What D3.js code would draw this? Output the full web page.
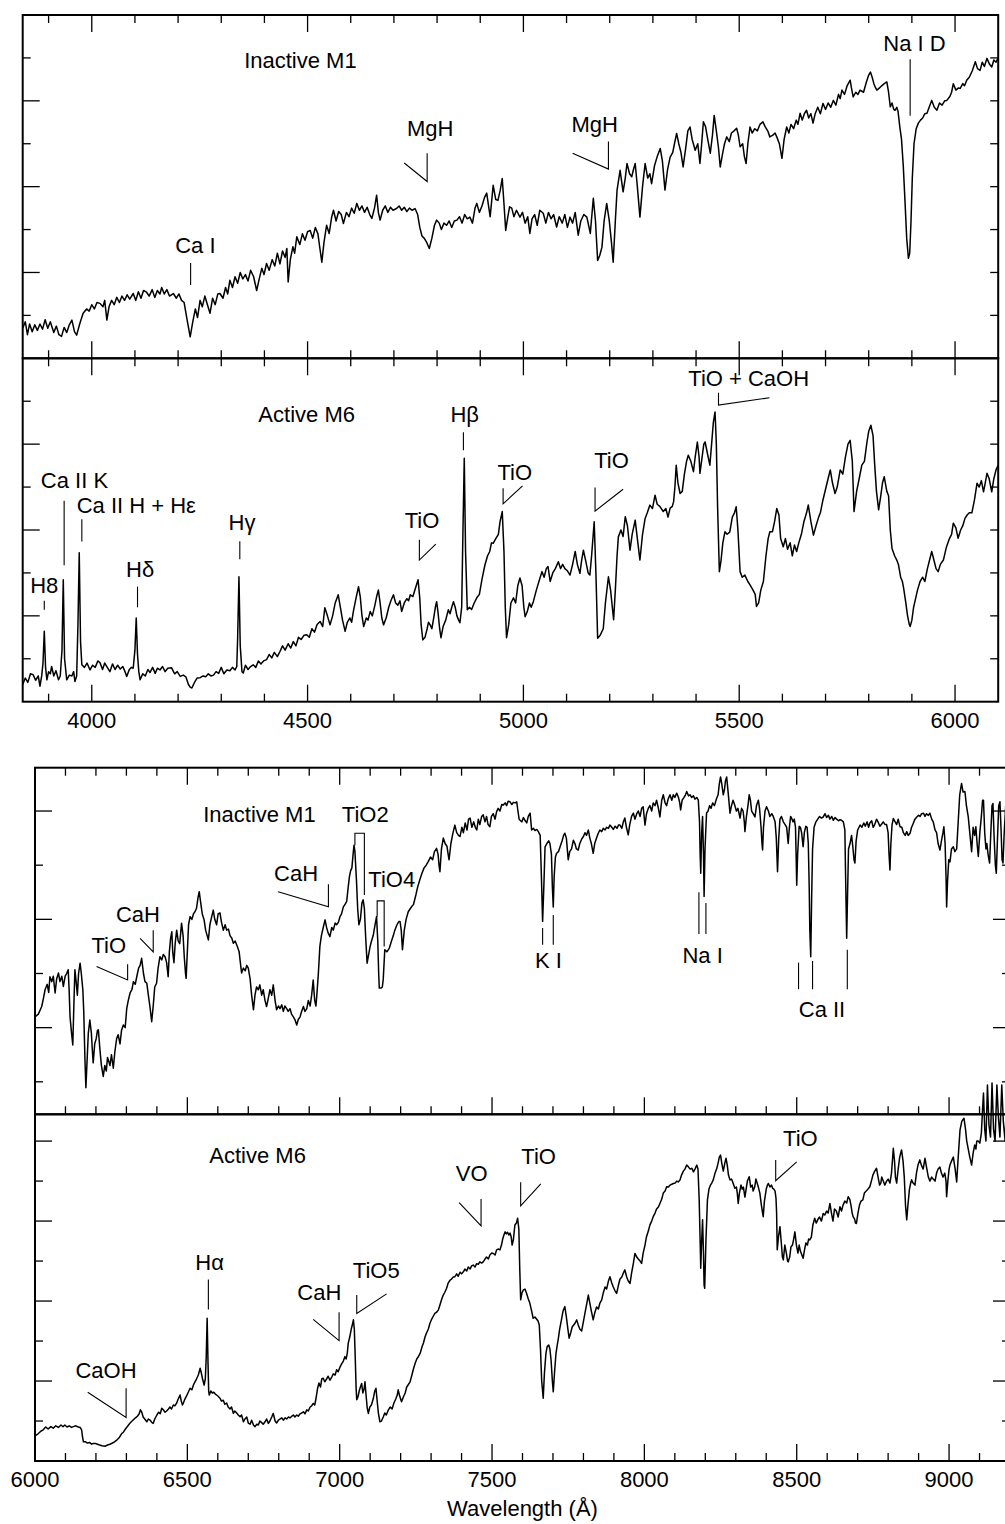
<!DOCTYPE html>
<html>
<head>
<meta charset="utf-8">
<script src="https://cdn.jsdelivr.net/npm/d3@7"></script>
<style>
  html, body { margin: 0; padding: 0; background: #fff; }
  svg { display: block; font-family: "Liberation Sans", Arial, Helvetica, sans-serif; }
</style>
</head>
<body>
<div id="chart"></div>
<script>
"use strict";

// ---- data: wavelength (Å), relative flux (in panel tick units) ----
const blueInactive = [[3840,0.70],[3846,0.85],[3851,0.55],[3856,0.80],[3862,0.62],[3868,0.78],[3874,0.65],[3880,0.80],[3886,0.68],[3892,0.90],[3898,0.70],[3904,0.85],[3912,0.60],[3918,0.75],[3924,0.55],[3930,0.51],[3936,0.72],[3942,0.60],[3948,0.78],[3954,0.89],[3960,0.62],[3965,0.54],[3972,0.80],[3980,1.05],[3988,1.15],[3994,1.10],[4000,1.25],[4006,1.15],[4012,1.30],[4019,1.28],[4026,1.20],[4030,1.35],[4035,0.89],[4040,1.20],[4046,1.35],[4052,1.25],[4058,1.42],[4064,1.30],[4070,1.45],[4076,1.35],[4082,1.48],[4088,1.38],[4096,1.51],[4102,1.35],[4108,1.55],[4114,1.40],[4120,1.58],[4127,1.54],[4133,1.45],[4140,1.60],[4146,1.42],[4152,1.58],[4158,1.50],[4162,1.65],[4168,1.50],[4174,1.60],[4180,1.45],[4189,1.51],[4196,1.40],[4202,1.50],[4208,1.35],[4214,1.30],[4220,0.95],[4228,0.50],[4234,0.85],[4240,1.15],[4245,0.95],[4251,1.35],[4256,1.20],[4262,1.45],[4268,1.25],[4274,1.05],[4280,1.40],[4286,1.25],[4292,1.50],[4297,1.51],[4304,1.40],[4310,1.65],[4315,1.50],[4320,1.82],[4326,1.65],[4332,1.90],[4338,1.75],[4344,2.00],[4350,1.85],[4356,1.95],[4362,1.80],[4368,2.05],[4375,1.90],[4382,1.58],[4388,1.85],[4394,2.10],[4399,1.95],[4405,2.21],[4411,2.05],[4418,2.30],[4424,2.15],[4430,2.45],[4436,2.20],[4442,2.50],[4448,2.35],[4452,2.56],[4455,1.78],[4460,2.30],[4466,2.60],[4470,2.45],[4475,2.83],[4482,2.65],[4488,2.90],[4494,2.75],[4500,2.95],[4506,2.98],[4512,2.80],[4518,3.05],[4524,2.90],[4528,2.60],[4533,2.24],[4538,2.70],[4544,3.10],[4550,2.91],[4556,3.30],[4560,3.45],[4566,3.20],[4572,3.42],[4578,3.35],[4583,3.14],[4590,3.40],[4596,3.30],[4602,3.50],[4608,3.38],[4614,3.61],[4620,3.45],[4626,3.55],[4632,3.40],[4638,3.52],[4644,3.35],[4649,3.26],[4655,3.50],[4660,3.80],[4664,3.40],[4668,3.22],[4674,3.45],[4680,3.55],[4686,3.40],[4692,3.52],[4698,3.45],[4706,3.49],[4712,3.55],[4718,3.45],[4724,3.52],[4730,3.42],[4736,3.50],[4742,3.45],[4749,3.49],[4755,3.35],[4760,3.05],[4765,2.85],[4770,2.80],[4776,2.70],[4782,2.56],[4788,2.80],[4794,3.10],[4799,3.22],[4805,3.15],[4810,3.00],[4816,3.15],[4822,3.10],[4828,3.20],[4834,3.05],[4840,3.20],[4846,3.22],[4852,3.30],[4858,3.15],[4864,3.35],[4870,3.25],[4876,3.29],[4882,3.15],[4888,3.50],[4892,3.61],[4898,3.40],[4904,3.55],[4910,3.75],[4915,3.85],[4920,3.50],[4923,3.30],[4930,4.03],[4936,3.70],[4941,3.68],[4946,3.90],[4951,4.19],[4955,3.60],[4959,2.98],[4964,3.30],[4968,3.53],[4973,3.50],[4978,3.30],[4984,3.45],[4992,3.29],[4998,3.40],[5004,3.15],[5010,3.30],[5015,2.91],[5020,3.25],[5026,3.35],[5032,3.10],[5038,3.45],[5046,3.38],[5052,3.15],[5058,3.40],[5064,3.25],[5070,3.35],[5077,3.06],[5083,3.30],[5090,3.15],[5096,3.35],[5102,3.05],[5108,3.29],[5114,3.15],[5120,3.40],[5127,2.87],[5133,3.20],[5140,3.35],[5147,3.29],[5155,2.91],[5162,3.73],[5167,3.20],[5172,2.28],[5177,2.40],[5182,2.59],[5187,3.20],[5193,3.61],[5199,3.20],[5204,2.70],[5208,2.24],[5213,3.20],[5217,3.92],[5224,4.38],[5231,3.88],[5236,4.20],[5240,4.54],[5246,4.30],[5251,4.23],[5255,4.40],[5259,4.54],[5264,4.00],[5270,3.29],[5276,4.00],[5282,4.54],[5288,4.20],[5293,4.30],[5297,4.07],[5304,4.50],[5310,4.70],[5317,4.89],[5322,4.60],[5328,3.92],[5334,4.40],[5340,4.69],[5346,4.80],[5350,5.00],[5355,5.24],[5360,5.00],[5365,4.80],[5370,4.46],[5376,4.90],[5381,5.30],[5386,5.39],[5391,5.10],[5398,4.85],[5404,5.00],[5409,4.54],[5413,5.00],[5417,5.51],[5422,5.40],[5428,5.05],[5433,4.78],[5438,5.20],[5442,5.66],[5447,5.30],[5452,4.90],[5456,4.46],[5462,4.80],[5466,5.00],[5471,5.16],[5477,5.05],[5482,5.25],[5488,5.30],[5494,5.36],[5498,5.20],[5502,4.93],[5508,5.00],[5512,4.70],[5516,4.54],[5520,5.00],[5525,5.39],[5530,5.25],[5536,5.35],[5542,5.30],[5548,5.45],[5555,5.51],[5560,5.40],[5566,5.30],[5571,5.16],[5578,5.20],[5583,5.25],[5587,5.16],[5593,5.00],[5599,4.66],[5604,5.10],[5610,5.39],[5615,5.25],[5620,5.45],[5626,5.35],[5632,5.55],[5636,5.45],[5641,5.71],[5646,5.55],[5651,5.70],[5656,5.78],[5661,5.60],[5666,5.70],[5671,5.48],[5676,5.70],[5682,5.85],[5688,5.70],[5694,5.94],[5700,5.80],[5706,5.95],[5712,5.85],[5718,6.01],[5724,5.90],[5730,6.15],[5734,6.05],[5738,6.25],[5744,6.15],[5750,6.35],[5757,6.48],[5760,6.30],[5764,6.09],[5770,6.20],[5775,6.15],[5780,6.25],[5788,6.20],[5795,6.45],[5800,6.60],[5804,6.67],[5808,6.55],[5812,6.40],[5816,6.30],[5819,6.25],[5825,6.30],[5830,6.35],[5836,6.40],[5842,6.44],[5846,6.20],[5850,5.86],[5854,5.95],[5858,5.80],[5861,5.78],[5865,5.85],[5868,5.75],[5872,5.40],[5876,5.10],[5880,4.50],[5884,3.68],[5888,2.80],[5892,2.33],[5895,2.45],[5898,3.20],[5901,4.20],[5905,5.00],[5910,5.35],[5915,5.48],[5920,5.55],[5925,5.60],[5930,5.70],[5935,5.71],[5940,5.85],[5946,6.01],[5952,5.85],[5958,5.78],[5964,5.95],[5970,5.90],[5976,6.00],[5981,6.01],[5988,6.10],[5992,6.20],[5996,6.40],[6002,6.25],[6008,6.30],[6012,6.29],[6018,6.40],[6022,6.35],[6027,6.48],[6033,6.55],[6040,6.70],[6047,6.91],[6052,6.75],[6058,6.71],[6063,6.90],[6068,6.80],[6074,6.99],[6080,6.85],[6085,6.79],[6090,6.95],[6095,6.90],[6100,7.00]];

const blueActive = [[3840,0.40],[3846,0.55],[3852,0.45],[3858,0.65],[3864,0.63],[3870,0.50],[3876,0.60],[3880,0.36],[3884,0.60],[3887,0.90],[3890,1.64],[3893,0.80],[3896,0.51],[3900,0.70],[3904,0.65],[3907,0.82],[3912,0.60],[3917,0.72],[3923,0.51],[3927,0.60],[3931,1.20],[3934,2.84],[3937,1.00],[3942,0.51],[3948,0.62],[3954,0.60],[3958,0.70],[3961,0.47],[3965,0.60],[3968,1.80],[3971,3.47],[3974,1.40],[3977,0.86],[3983,0.80],[3989,0.90],[3996,0.74],[4002,0.85],[4008,0.80],[4014,0.95],[4019,0.91],[4025,0.75],[4030,0.90],[4036,0.80],[4042,0.70],[4048,0.88],[4054,0.75],[4060,0.85],[4066,0.76],[4072,0.82],[4077,0.70],[4081,0.59],[4087,0.75],[4092,0.80],[4096,0.78],[4100,1.20],[4103,1.95],[4106,1.10],[4109,0.70],[4112,0.51],[4118,0.65],[4124,0.60],[4130,0.75],[4135,0.68],[4141,0.80],[4147,0.66],[4152,0.78],[4158,0.74],[4164,0.82],[4170,0.70],[4176,0.78],[4185,0.79],[4192,0.65],[4198,0.70],[4205,0.59],[4212,0.62],[4218,0.58],[4224,0.40],[4228,0.34],[4232,0.32],[4238,0.45],[4244,0.55],[4251,0.56],[4258,0.60],[4264,0.58],[4270,0.65],[4276,0.60],[4282,0.62],[4288,0.70],[4294,0.66],[4300,0.80],[4306,0.65],[4313,0.74],[4320,0.72],[4326,0.80],[4332,0.74],[4336,0.82],[4338,1.50],[4341,2.91],[4344,1.30],[4348,0.70],[4351,0.67],[4356,0.85],[4362,0.75],[4368,0.82],[4374,0.86],[4380,0.80],[4386,0.95],[4392,0.88],[4398,0.95],[4405,0.98],[4411,1.10],[4417,1.02],[4423,1.15],[4430,1.05],[4436,1.17],[4442,1.30],[4448,1.20],[4455,1.35],[4461,1.25],[4467,1.40],[4473,1.30],[4479,1.50],[4485,1.45],[4492,1.55],[4498,1.56],[4504,1.50],[4510,1.70],[4516,1.62],[4522,1.80],[4529,1.87],[4535,1.75],[4540,2.19],[4546,2.00],[4552,1.79],[4558,2.00],[4564,2.30],[4571,2.49],[4576,2.20],[4581,1.90],[4587,1.64],[4592,1.85],[4598,1.95],[4602,1.85],[4606,2.10],[4612,2.40],[4618,2.68],[4622,2.45],[4626,2.00],[4630,1.75],[4636,1.95],[4640,1.90],[4645,2.10],[4650,2.00],[4656,2.25],[4660,2.45],[4664,2.60],[4668,2.30],[4672,1.95],[4676,1.79],[4682,1.95],[4688,2.20],[4693,2.35],[4699,2.49],[4704,2.30],[4709,2.25],[4714,2.35],[4718,2.10],[4724,2.30],[4730,2.40],[4734,2.35],[4738,2.49],[4744,2.45],[4750,2.65],[4756,2.84],[4760,2.40],[4763,1.80],[4767,1.44],[4772,1.50],[4777,1.70],[4780,1.85],[4784,1.79],[4788,1.70],[4793,2.00],[4796,2.20],[4799,2.33],[4802,2.10],[4806,1.70],[4809,1.49],[4814,1.75],[4820,1.90],[4826,2.14],[4830,2.05],[4834,2.20],[4838,2.33],[4842,2.20],[4846,2.00],[4850,1.90],[4853,1.84],[4857,2.20],[4860,4.00],[4863,5.67],[4866,3.50],[4870,2.14],[4875,2.20],[4880,2.15],[4886,2.30],[4892,2.42],[4898,2.50],[4904,2.85],[4911,3.19],[4917,3.40],[4922,3.50],[4926,3.70],[4930,3.69],[4936,3.80],[4942,3.90],[4946,4.20],[4951,4.43],[4955,3.50],[4958,2.20],[4961,1.49],[4966,1.80],[4971,2.30],[4977,2.42],[4982,2.30],[4987,2.70],[4992,2.88],[4997,2.70],[5001,2.20],[5004,1.98],[5009,2.10],[5014,2.30],[5018,2.20],[5023,2.33],[5030,2.60],[5036,2.80],[5043,3.03],[5048,2.90],[5053,3.10],[5057,3.15],[5062,2.80],[5068,3.00],[5074,3.10],[5081,3.26],[5086,3.10],[5091,3.20],[5096,3.10],[5102,3.05],[5108,2.95],[5114,3.20],[5120,3.50],[5125,3.20],[5131,2.99],[5135,3.30],[5139,3.53],[5144,3.30],[5150,3.00],[5154,2.95],[5158,3.40],[5164,4.19],[5168,3.00],[5172,1.48],[5178,1.55],[5185,1.70],[5190,2.30],[5197,2.91],[5202,2.60],[5206,2.20],[5209,1.91],[5213,2.60],[5217,3.40],[5220,3.84],[5226,4.00],[5231,3.85],[5236,4.31],[5241,4.10],[5247,3.53],[5252,3.90],[5259,4.23],[5264,3.80],[5270,3.30],[5276,3.90],[5282,4.27],[5287,4.40],[5293,4.58],[5299,4.50],[5305,4.81],[5310,4.60],[5316,4.55],[5324,4.43],[5330,4.50],[5335,4.30],[5340,4.51],[5345,4.55],[5348,4.66],[5351,5.00],[5354,5.51],[5358,5.10],[5363,4.85],[5368,4.90],[5373,5.30],[5378,5.60],[5382,5.74],[5388,5.60],[5394,5.36],[5398,5.70],[5403,6.05],[5407,5.70],[5409,5.32],[5414,5.70],[5418,6.00],[5421,6.05],[5426,5.80],[5432,5.51],[5436,6.00],[5440,6.50],[5444,6.75],[5447,6.00],[5450,4.50],[5454,3.03],[5458,3.30],[5462,3.70],[5467,3.96],[5472,3.90],[5478,3.95],[5484,4.30],[5489,4.40],[5493,4.54],[5497,4.00],[5502,3.03],[5507,2.90],[5513,2.95],[5520,2.80],[5525,2.72],[5532,2.60],[5537,2.50],[5540,2.22],[5545,2.30],[5550,2.60],[5556,2.80],[5562,3.40],[5567,3.80],[5571,3.96],[5577,3.96],[5582,4.20],[5587,4.50],[5592,4.35],[5596,3.80],[5602,3.61],[5607,3.80],[5612,3.55],[5618,3.70],[5623,3.40],[5628,3.65],[5633,3.50],[5638,3.70],[5644,3.90],[5650,4.20],[5656,4.40],[5660,4.58],[5666,4.20],[5672,3.88],[5678,4.10],[5684,4.30],[5688,4.40],[5694,4.70],[5700,4.95],[5706,5.20],[5711,5.40],[5716,5.10],[5722,4.85],[5727,5.00],[5734,5.40],[5740,5.30],[5746,5.70],[5752,6.00],[5757,6.09],[5762,5.60],[5766,4.43],[5772,4.90],[5778,5.20],[5784,5.51],[5790,5.60],[5796,6.05],[5800,6.30],[5805,6.44],[5810,6.20],[5814,5.50],[5818,4.90],[5823,4.47],[5828,4.80],[5832,5.10],[5836,5.24],[5842,4.90],[5846,4.80],[5850,4.00],[5854,3.57],[5860,3.40],[5865,3.30],[5869,3.19],[5874,2.90],[5878,2.80],[5881,2.64],[5886,2.30],[5890,2.00],[5894,1.80],[5896,1.75],[5900,1.90],[5904,2.20],[5907,2.33],[5913,2.60],[5919,2.80],[5925,2.90],[5930,2.80],[5936,3.10],[5941,3.30],[5946,3.50],[5951,3.30],[5956,3.10],[5961,3.03],[5966,3.20],[5973,3.30],[5980,3.60],[5987,3.80],[5992,3.90],[5996,4.16],[6002,4.05],[6007,3.81],[6013,4.00],[6018,4.10],[6023,4.27],[6028,4.35],[6033,4.40],[6039,4.40],[6045,4.70],[6051,5.09],[6056,5.00],[6061,5.15],[6066,4.89],[6070,5.10],[6074,5.32],[6079,5.20],[6085,4.89],[6090,5.20],[6095,5.40],[6100,5.51]];

const redInactive = [[6000,1.20],[6011,1.25],[6022,1.39],[6028,1.55],[6033,1.70],[6040,1.80],[6045,1.65],[6049,1.94],[6055,1.85],[6060,1.95],[6066,1.64],[6071,1.90],[6077,2.01],[6082,1.85],[6088,1.95],[6093,1.76],[6099,1.95],[6104,2.00],[6109,2.07],[6112,1.70],[6115,1.20],[6120,0.90],[6124,0.68],[6128,1.50],[6131,2.07],[6135,1.85],[6139,1.60],[6143,2.00],[6148,2.19],[6152,2.00],[6157,1.70],[6160,1.30],[6164,0.40],[6167,-0.11],[6171,0.40],[6175,0.90],[6180,1.14],[6185,0.90],[6188,0.60],[6191,0.35],[6196,0.70],[6201,0.80],[6205,0.95],[6208,0.96],[6213,0.60],[6218,0.30],[6224,0.10],[6229,0.30],[6234,0.20],[6238,0.45],[6241,0.40],[6246,0.30],[6251,0.50],[6257,0.25],[6262,0.55],[6268,0.80],[6273,0.87],[6279,0.70],[6284,0.95],[6290,1.05],[6296,1.00],[6301,1.35],[6306,1.50],[6312,1.64],[6318,1.70],[6323,1.85],[6329,1.80],[6334,1.94],[6340,2.10],[6345,2.15],[6350,2.28],[6356,2.00],[6361,1.85],[6367,1.82],[6372,1.60],[6377,1.40],[6383,1.11],[6388,1.40],[6393,1.75],[6399,1.82],[6404,2.10],[6410,2.31],[6416,2.25],[6421,2.35],[6427,2.31],[6432,2.20],[6437,1.94],[6441,2.40],[6445,2.65],[6449,2.77],[6452,2.40],[6456,2.20],[6460,2.55],[6465,2.80],[6470,2.60],[6475,2.55],[6481,2.93],[6486,2.70],[6490,2.30],[6494,2.00],[6496,1.91],[6500,2.40],[6504,2.90],[6509,3.05],[6515,3.00],[6520,3.10],[6525,3.14],[6530,3.20],[6535,3.40],[6539,3.51],[6544,3.30],[6549,3.10],[6555,2.99],[6560,2.80],[6565,2.70],[6569,2.62],[6574,2.90],[6580,3.05],[6585,3.17],[6590,3.00],[6596,2.90],[6601,3.10],[6607,3.12],[6612,2.95],[6618,2.80],[6624,2.90],[6629,2.80],[6635,2.82],[6640,2.70],[6646,2.65],[6651,2.56],[6657,2.60],[6664,2.50],[6670,2.40],[6674,2.20],[6678,2.01],[6684,2.10],[6690,2.05],[6695,2.15],[6700,2.10],[6706,1.90],[6711,1.60],[6717,1.33],[6722,1.60],[6727,1.75],[6733,1.70],[6738,1.79],[6744,1.60],[6749,1.70],[6755,1.50],[6760,1.39],[6766,1.55],[6771,1.70],[6777,1.60],[6782,1.79],[6788,1.50],[6793,1.33],[6799,1.40],[6804,1.35],[6810,1.42],[6815,1.30],[6820,1.40],[6826,1.35],[6831,1.30],[6837,1.35],[6842,1.25],[6848,1.20],[6853,1.15],[6859,1.05],[6864,1.15],[6870,1.20],[6875,1.30],[6881,1.39],[6886,1.30],[6892,1.35],[6897,1.50],[6903,1.40],[6908,1.60],[6913,1.88],[6918,1.50],[6922,1.40],[6925,1.60],[6930,2.00],[6935,2.50],[6940,2.70],[6946,2.85],[6952,2.99],[6957,2.85],[6962,2.75],[6968,2.68],[6974,2.85],[6979,2.80],[6985,2.93],[6990,2.90],[6996,2.95],[7001,3.05],[7006,3.10],[7012,3.23],[7018,3.28],[7023,3.33],[7028,3.60],[7032,3.79],[7036,3.90],[7040,3.95],[7044,4.20],[7047,4.37],[7050,4.25],[7055,3.73],[7059,3.20],[7063,2.90],[7068,3.00],[7073,3.30],[7077,3.36],[7081,3.20],[7085,2.70],[7090,2.19],[7095,2.35],[7100,2.50],[7104,2.59],[7110,2.70],[7116,2.90],[7121,3.05],[7125,2.60],[7128,2.00],[7130,1.73],[7135,1.73],[7140,1.75],[7143,1.90],[7148,2.44],[7155,2.40],[7163,2.47],[7170,2.60],[7176,2.70],[7181,2.80],[7188,2.90],[7194,2.96],[7198,2.96],[7202,2.80],[7206,2.44],[7212,2.80],[7218,3.00],[7225,3.14],[7232,3.20],[7238,3.25],[7242,3.27],[7250,3.45],[7256,3.60],[7263,3.73],[7270,3.85],[7277,3.95],[7284,4.00],[7291,4.07],[7298,4.15],[7305,4.10],[7311,4.25],[7318,4.31],[7323,4.20],[7326,4.00],[7329,3.88],[7334,4.30],[7340,4.50],[7346,4.40],[7352,4.35],[7356,4.20],[7359,4.10],[7365,4.40],[7372,4.60],[7378,4.74],[7384,4.60],[7390,4.55],[7395,4.53],[7401,4.70],[7406,4.60],[7412,4.78],[7418,4.65],[7423,4.85],[7428,4.87],[7434,4.70],[7440,4.80],[7445,4.70],[7450,4.65],[7455,4.85],[7460,4.75],[7466,4.90],[7471,4.93],[7477,4.80],[7482,4.90],[7487,4.75],[7493,4.71],[7498,4.90],[7504,4.95],[7510,4.85],[7515,4.99],[7520,5.05],[7526,5.00],[7532,5.12],[7537,5.11],[7543,5.15],[7548,5.10],[7553,5.18],[7559,5.17],[7565,5.12],[7570,5.16],[7576,5.15],[7581,5.17],[7585,5.00],[7589,4.85],[7592,4.83],[7598,4.80],[7603,4.88],[7609,4.82],[7614,4.78],[7619,4.90],[7625,4.96],[7630,4.65],[7636,4.68],[7641,4.64],[7647,4.66],[7652,4.62],[7658,4.55],[7662,3.80],[7666,2.96],[7670,3.60],[7674,4.34],[7680,4.40],[7686,4.45],[7690,4.40],[7695,4.20],[7698,3.60],[7701,3.23],[7704,3.80],[7708,4.15],[7712,4.22],[7718,4.25],[7724,4.35],[7730,4.45],[7735,4.55],[7739,4.59],[7744,4.50],[7747,4.30],[7750,4.10],[7755,4.25],[7761,4.30],[7767,4.46],[7772,4.40],[7777,4.30],[7783,4.28],[7788,4.40],[7794,4.48],[7800,4.53],[7805,4.60],[7810,4.55],[7816,4.65],[7821,4.50],[7826,4.40],[7832,4.22],[7837,4.40],[7843,4.50],[7848,4.58],[7854,4.65],[7860,4.62],[7865,4.68],[7871,4.65],[7876,4.70],[7882,4.68],[7887,4.74],[7893,4.70],[7898,4.66],[7904,4.72],[7910,4.68],[7915,4.74],[7920,4.74],[7926,4.68],[7931,4.80],[7936,4.87],[7941,4.70],[7947,4.56],[7952,4.75],[7958,4.90],[7964,4.96],[7969,4.85],[7975,4.95],[7980,5.00],[7986,4.90],[7991,5.05],[7996,5.08],[8002,4.74],[8007,4.95],[8013,5.05],[8018,5.10],[8024,5.00],[8029,5.15],[8035,5.10],[8040,5.20],[8046,5.05],[8051,4.89],[8057,5.20],[8062,5.30],[8068,5.15],[8073,5.10],[8078,5.22],[8084,5.30],[8090,5.20],[8095,5.30],[8100,5.25],[8106,5.33],[8112,5.25],[8116,5.15],[8119,5.02],[8124,5.20],[8130,5.25],[8135,5.30],[8139,5.36],[8145,5.28],[8150,5.30],[8155,5.25],[8161,5.28],[8166,5.22],[8172,5.25],[8177,5.20],[8181,4.80],[8183,4.20],[8185,3.85],[8188,4.60],[8191,4.90],[8194,4.20],[8196,3.42],[8199,4.30],[8204,4.96],[8209,5.00],[8214,5.10],[8219,5.05],[8224,5.15],[8230,5.10],[8237,5.23],[8242,5.30],[8246,5.50],[8250,5.63],[8254,5.50],[8259,5.30],[8263,5.40],[8266,5.55],[8270,5.63],[8274,5.40],[8278,5.15],[8281,4.96],[8286,5.10],[8291,5.20],[8297,5.10],[8302,5.00],[8307,5.05],[8311,4.95],[8314,4.87],[8319,5.05],[8324,5.00],[8328,4.80],[8330,4.62],[8335,4.90],[8340,5.10],[8344,5.30],[8348,5.20],[8352,5.00],[8357,4.95],[8363,4.89],[8368,5.10],[8374,5.20],[8378,5.05],[8383,4.70],[8386,4.40],[8388,4.28],[8391,4.70],[8396,5.00],[8401,5.08],[8407,5.00],[8412,4.90],[8418,4.95],[8423,4.90],[8429,4.80],[8433,4.50],[8437,3.88],[8441,4.50],[8445,4.85],[8450,4.90],[8456,4.80],[8462,4.75],[8467,4.70],[8472,4.40],[8476,4.70],[8480,4.90],[8483,4.87],[8488,4.80],[8492,4.85],[8496,4.70],[8498,4.20],[8500,3.63],[8503,4.20],[8508,4.72],[8512,4.70],[8516,4.60],[8519,4.45],[8521,4.34],[8525,4.60],[8530,4.72],[8534,4.70],[8538,4.40],[8541,3.60],[8543,2.80],[8546,2.31],[8549,3.40],[8552,4.30],[8557,4.70],[8563,4.80],[8569,4.85],[8575,4.90],[8581,4.87],[8587,4.89],[8593,4.95],[8598,4.88],[8604,4.92],[8609,4.85],[8615,4.90],[8620,4.83],[8626,4.88],[8631,4.85],[8637,4.82],[8642,4.84],[8647,4.83],[8653,4.80],[8658,4.65],[8661,3.60],[8664,2.65],[8667,3.50],[8670,4.30],[8675,4.40],[8680,4.55],[8684,4.35],[8688,4.10],[8691,4.04],[8695,4.45],[8700,4.65],[8708,4.74],[8714,4.70],[8720,4.78],[8725,4.72],[8731,4.80],[8736,4.70],[8740,4.78],[8746,4.82],[8751,4.70],[8756,4.75],[8762,4.85],[8767,4.80],[8773,4.72],[8779,4.76],[8784,4.80],[8790,4.75],[8795,4.75],[8800,4.60],[8803,4.20],[8806,3.91],[8809,4.40],[8813,4.75],[8817,4.86],[8823,4.80],[8828,4.75],[8833,4.85],[8839,4.71],[8845,4.70],[8850,4.60],[8856,4.55],[8861,4.62],[8866,4.55],[8872,4.59],[8877,4.70],[8883,4.78],[8888,4.85],[8894,4.89],[8900,4.92],[8905,4.90],[8910,4.95],[8916,4.96],[8921,4.90],[8926,4.95],[8932,4.92],[8937,4.96],[8943,4.85],[8948,4.80],[8954,4.65],[8959,4.60],[8964,4.40],[8970,4.28],[8975,4.45],[8980,4.60],[8983,4.71],[8987,4.40],[8990,3.80],[8992,3.23],[8995,3.70],[8999,4.10],[9003,4.06],[9008,4.30],[9014,4.34],[9019,4.25],[9025,4.30],[9030,4.80],[9035,5.30],[9041,5.51],[9046,5.35],[9052,5.36],[9057,5.10],[9063,4.89],[9068,4.60],[9074,4.25],[9079,4.70],[9084,4.55],[9088,4.71],[9092,4.40],[9096,4.16],[9101,4.60],[9106,4.90],[9110,5.20],[9113,5.20],[9117,4.60],[9121,4.30],[9124,4.40],[9128,4.20],[9133,4.04],[9137,4.60],[9141,5.10],[9144,5.14],[9148,4.50],[9152,4.00],[9155,3.85],[9159,4.50],[9163,5.10],[9167,5.17],[9171,4.60],[9174,4.10],[9177,4.04],[9181,4.60],[9186,5.10],[9190,4.60],[9195,4.30],[9200,4.80]];

const redActive = [[6000,0.63],[6010,0.68],[6020,0.75],[6027,0.78],[6035,0.85],[6043,0.80],[6052,0.86],[6060,0.82],[6068,0.88],[6077,0.84],[6085,0.90],[6092,0.86],[6098,0.90],[6105,0.85],[6112,0.88],[6120,0.84],[6126,0.86],[6134,0.88],[6142,0.85],[6148,0.84],[6153,0.78],[6156,0.60],[6159,0.48],[6166,0.48],[6172,0.45],[6180,0.46],[6186,0.42],[6191,0.44],[6198,0.44],[6205,0.42],[6212,0.40],[6220,0.38],[6230,0.37],[6238,0.40],[6246,0.42],[6254,0.45],[6261,0.48],[6268,0.52],[6276,0.58],[6284,0.68],[6290,0.72],[6295,0.78],[6302,0.85],[6310,0.93],[6316,0.98],[6323,1.03],[6330,1.08],[6336,1.12],[6342,1.18],[6346,1.28],[6350,1.23],[6355,1.10],[6360,1.05],[6367,0.98],[6372,1.05],[6378,1.02],[6384,0.96],[6388,0.94],[6393,1.05],[6400,1.15],[6406,1.22],[6411,1.18],[6416,1.32],[6421,1.28],[6427,1.22],[6432,1.25],[6438,1.30],[6443,1.35],[6448,1.30],[6454,1.40],[6459,1.38],[6465,1.45],[6470,1.55],[6476,1.65],[6480,1.50],[6484,1.40],[6487,1.45],[6492,1.55],[6497,1.62],[6503,1.72],[6509,1.82],[6515,1.78],[6520,1.90],[6525,1.98],[6530,2.05],[6536,2.15],[6542,2.32],[6546,2.20],[6550,2.05],[6555,1.90],[6559,2.05],[6562,2.60],[6565,3.57],[6568,2.40],[6570,1.75],[6572,1.65],[6577,1.75],[6582,1.70],[6587,1.72],[6591,1.68],[6596,1.65],[6601,1.62],[6607,1.57],[6612,1.50],[6618,1.52],[6623,1.42],[6629,1.45],[6634,1.35],[6640,1.30],[6645,1.35],[6651,1.19],[6656,1.25],[6662,1.20],[6667,1.15],[6673,1.11],[6678,1.15],[6684,0.98],[6689,1.05],[6695,1.10],[6700,0.95],[6706,0.92],[6711,1.02],[6717,0.90],[6722,0.86],[6728,0.92],[6733,0.90],[6738,1.00],[6744,0.96],[6749,0.92],[6755,0.98],[6760,1.05],[6766,0.94],[6771,1.00],[6777,1.10],[6782,1.19],[6788,1.00],[6793,0.95],[6799,1.02],[6804,1.05],[6810,1.08],[6815,1.02],[6821,1.08],[6826,1.05],[6832,1.10],[6837,1.08],[6843,1.12],[6848,1.15],[6853,1.10],[6859,1.15],[6864,1.12],[6870,1.18],[6875,1.20],[6881,1.23],[6886,1.18],[6892,1.28],[6897,1.25],[6903,1.35],[6908,1.38],[6913,1.44],[6918,1.40],[6922,1.55],[6927,1.80],[6932,1.95],[6937,1.85],[6941,2.05],[6946,2.07],[6951,1.98],[6957,2.05],[6962,2.12],[6968,2.02],[6974,2.10],[6979,2.18],[6985,2.15],[6990,2.28],[6995,2.23],[7001,2.35],[7006,2.42],[7012,2.50],[7017,2.61],[7021,2.55],[7025,2.70],[7028,2.94],[7033,3.10],[7038,3.30],[7043,3.45],[7045,3.53],[7048,3.30],[7051,2.60],[7054,1.80],[7056,1.53],[7060,1.60],[7064,1.75],[7068,1.85],[7072,1.94],[7076,1.70],[7080,1.80],[7083,1.98],[7086,1.70],[7090,1.35],[7094,1.19],[7099,1.35],[7104,1.40],[7110,1.55],[7115,1.75],[7119,1.82],[7123,1.50],[7127,1.20],[7132,0.98],[7137,1.00],[7143,1.10],[7148,1.20],[7153,1.15],[7160,1.28],[7166,1.35],[7172,1.30],[7178,1.45],[7184,1.55],[7189,1.65],[7192,1.78],[7196,1.65],[7200,1.55],[7203,1.48],[7209,1.60],[7215,1.70],[7220,1.85],[7226,1.92],[7231,1.98],[7237,2.15],[7242,2.30],[7248,2.45],[7253,2.55],[7259,2.62],[7264,2.69],[7270,2.85],[7275,2.95],[7280,3.10],[7285,3.20],[7291,3.30],[7296,3.44],[7302,3.55],[7307,3.62],[7313,3.70],[7318,3.72],[7324,3.78],[7329,3.90],[7335,4.05],[7340,4.15],[7345,4.22],[7351,4.32],[7356,4.45],[7362,4.52],[7367,4.55],[7373,4.60],[7378,4.61],[7384,4.68],[7389,4.62],[7395,4.72],[7400,4.68],[7406,4.73],[7411,4.80],[7417,4.75],[7422,4.85],[7428,4.80],[7433,4.88],[7438,4.90],[7444,4.85],[7449,4.93],[7455,4.92],[7460,4.98],[7466,4.95],[7471,4.98],[7477,5.05],[7482,5.10],[7488,5.05],[7493,5.15],[7499,5.20],[7504,5.19],[7510,5.15],[7515,5.28],[7521,5.30],[7526,5.28],[7531,5.40],[7535,5.55],[7539,5.65],[7543,5.73],[7547,5.68],[7551,5.72],[7555,5.65],[7559,5.70],[7563,5.60],[7566,5.40],[7570,5.53],[7575,5.90],[7580,5.95],[7584,6.07],[7588,5.80],[7591,4.80],[7594,4.03],[7598,4.20],[7603,4.28],[7608,4.30],[7613,4.20],[7619,4.05],[7624,3.95],[7630,3.75],[7635,3.57],[7641,3.60],[7646,3.55],[7651,3.50],[7655,3.40],[7659,2.80],[7663,2.00],[7668,1.57],[7672,2.20],[7677,2.70],[7681,2.86],[7686,2.90],[7690,2.80],[7694,2.50],[7698,2.00],[7701,1.73],[7705,2.20],[7710,2.70],[7714,2.90],[7717,3.03],[7722,3.30],[7727,3.50],[7733,3.75],[7739,3.86],[7744,3.60],[7749,3.30],[7753,3.07],[7758,3.20],[7763,3.35],[7768,3.40],[7773,3.45],[7778,3.53],[7783,3.40],[7788,3.30],[7794,3.25],[7799,3.45],[7805,3.70],[7810,3.90],[7816,4.15],[7821,3.95],[7826,3.75],[7832,3.53],[7837,3.70],[7843,3.85],[7849,3.80],[7854,3.95],[7860,4.03],[7865,4.20],[7871,4.35],[7876,4.30],[7882,4.50],[7887,4.61],[7893,4.45],[7898,4.35],[7904,4.25],[7909,4.19],[7915,4.40],[7920,4.55],[7926,4.60],[7931,4.70],[7936,4.78],[7942,4.60],[7947,4.50],[7953,4.44],[7958,4.70],[7964,4.95],[7969,5.19],[7975,5.10],[7980,5.05],[7986,5.00],[7991,4.94],[7996,5.20],[8002,5.40],[8007,5.61],[8013,5.75],[8018,5.90],[8024,6.00],[8029,6.11],[8035,6.20],[8040,6.30],[8046,6.35],[8051,6.44],[8057,6.55],[8062,6.70],[8068,6.75],[8073,6.86],[8079,6.85],[8084,6.90],[8090,6.92],[8095,6.94],[8101,6.95],[8106,7.00],[8111,6.98],[8117,7.03],[8122,7.15],[8128,7.25],[8133,7.30],[8139,7.40],[8145,7.35],[8150,7.30],[8156,7.32],[8161,7.23],[8166,7.30],[8172,7.40],[8176,7.30],[8180,6.50],[8183,5.50],[8185,4.82],[8188,5.50],[8191,6.03],[8194,5.20],[8196,4.40],[8198,4.32],[8202,5.50],[8207,6.53],[8212,6.80],[8217,6.90],[8221,6.95],[8226,7.03],[8232,7.20],[8237,7.30],[8242,7.45],[8246,7.60],[8250,7.65],[8254,7.45],[8259,7.25],[8264,7.45],[8268,7.57],[8272,7.40],[8276,7.15],[8281,7.03],[8286,7.05],[8291,6.95],[8297,6.82],[8302,6.85],[8305,6.70],[8308,6.44],[8312,6.70],[8317,6.90],[8321,6.80],[8325,6.85],[8330,6.60],[8334,6.80],[8338,7.00],[8344,7.11],[8349,6.85],[8354,6.90],[8357,6.75],[8362,6.85],[8366,7.05],[8370,6.95],[8374,6.85],[8379,6.70],[8384,6.40],[8388,6.20],[8390,6.11],[8394,6.50],[8400,6.80],[8404,6.90],[8407,6.94],[8412,6.85],[8417,6.90],[8421,6.82],[8425,6.80],[8429,6.75],[8432,6.57],[8434,6.20],[8436,5.28],[8440,5.60],[8445,5.86],[8450,5.40],[8453,5.10],[8456,5.03],[8461,5.40],[8466,5.20],[8470,5.00],[8472,4.98],[8477,5.10],[8481,5.35],[8486,5.40],[8490,5.55],[8494,5.73],[8499,5.40],[8504,5.20],[8508,5.40],[8512,5.25],[8517,5.15],[8521,5.07],[8526,5.30],[8530,5.45],[8535,5.40],[8539,5.55],[8543,5.53],[8548,5.60],[8553,5.90],[8559,6.07],[8564,5.95],[8570,6.05],[8575,6.10],[8581,6.00],[8587,6.19],[8592,6.15],[8598,6.25],[8603,6.20],[8609,6.44],[8614,6.20],[8619,6.00],[8624,6.30],[8630,6.25],[8636,6.10],[8642,6.36],[8647,6.25],[8652,6.40],[8658,6.50],[8664,6.45],[8669,6.61],[8674,6.55],[8678,6.40],[8682,6.20],[8685,6.11],[8690,6.05],[8693,5.95],[8696,5.94],[8701,6.20],[8706,6.40],[8711,6.50],[8717,6.53],[8722,6.70],[8728,6.75],[8734,6.80],[8740,6.86],[8745,7.00],[8750,7.15],[8756,7.25],[8762,7.32],[8767,7.10],[8772,6.90],[8776,6.95],[8779,7.10],[8784,7.00],[8789,6.90],[8795,7.00],[8800,7.05],[8806,6.95],[8811,7.20],[8814,7.50],[8817,7.82],[8821,7.50],[8824,7.10],[8828,6.95],[8833,7.30],[8838,7.60],[8844,7.78],[8849,7.50],[8853,7.10],[8857,6.40],[8861,6.03],[8865,6.40],[8870,6.80],[8874,6.95],[8877,7.03],[8882,6.95],[8888,6.90],[8893,7.20],[8898,7.40],[8904,7.53],[8909,7.40],[8915,7.30],[8921,7.57],[8926,7.35],[8932,7.10],[8937,7.00],[8943,7.10],[8948,7.05],[8954,7.00],[8959,7.20],[8964,7.30],[8970,7.35],[8975,7.20],[8980,7.10],[8986,7.20],[8990,7.00],[8992,6.61],[8996,7.00],[9000,7.30],[9003,7.40],[9008,7.50],[9014,7.60],[9020,7.30],[9025,6.98],[9030,7.60],[9036,8.28],[9042,8.50],[9049,8.57],[9054,8.30],[9058,8.00],[9063,7.80],[9068,7.60],[9074,7.40],[9079,7.70],[9084,7.90],[9088,7.80],[9091,8.00],[9096,8.00],[9101,7.95],[9106,8.20],[9110,8.80],[9113,9.20],[9117,8.30],[9121,8.00],[9126,9.40],[9131,8.40],[9136,8.10],[9141,9.45],[9146,8.30],[9151,8.00],[9157,9.40],[9162,8.60],[9167,8.10],[9173,9.40],[9178,8.50],[9184,8.00],[9190,9.30],[9195,8.40],[9200,8.80]];

// ---- annotations: text anchor points and marker polylines, in data units ----
const blueInactiveLabels = [
  { text: "Inactive M1", w: 4353, f: 6.77, anchor: "start" },
  { text: "Ca I", w: 4240, f: 2.45 },
  { text: "MgH", w: 4784, f: 5.17 },
  { text: "MgH", w: 5165, f: 5.28 },
  { text: "Na I D", w: 5906, f: 7.16 },
];
const blueInactiveMarks = [
  [[4229, 2.22], [4229, 1.71]],
  [[4724, 4.55], [4777, 4.12], [4777, 4.78]],
  [[5114, 4.78], [5197, 4.41], [5197, 5.05]],
  [[5896, 6.97], [5896, 5.65]],
];

const blueActiveLabels = [
  { text: "Active M6", w: 4386, f: 6.52, anchor: "start" },
  { text: "H8", w: 3890, f: 2.53 },
  { text: "Ca II K", w: 3882, f: 4.97, anchor: "start" },
  { text: "Ca II H + H\u03b5", w: 3965, f: 4.39, anchor: "start" },
  { text: "H\u03b4", w: 4112, f: 2.91 },
  { text: "H\u03b3", w: 4348, f: 4.0 },
  { text: "H\u03b2", w: 4864, f: 6.52 },
  { text: "TiO", w: 4765, f: 4.05 },
  { text: "TiO", w: 4980, f: 5.16 },
  { text: "TiO", w: 5204, f: 5.45 },
  { text: "TiO + CaOH", w: 5382, f: 7.36, anchor: "start" },
];
const blueActiveMarks = [
  [[3890, 2.35], [3890, 2.14]],
  [[3936, 4.68], [3936, 3.18]],
  [[3977, 4.25], [3977, 3.73]],
  [[4106, 2.68], [4106, 2.20]],
  [[4343, 3.74], [4343, 3.32]],
  [[4861, 6.28], [4861, 5.86]],
  [[4759, 3.77], [4759, 3.30], [4797, 3.67]],
  [[4953, 4.97], [4953, 4.61], [4998, 5.03]],
  [[5166, 4.99], [5166, 4.44], [5231, 4.95]],
  [[5452, 7.20], [5452, 6.91], [5570, 7.08]],
];

const redInactiveLabels = [
  { text: "Inactive M1", w: 6552, f: 4.80, anchor: "start" },
  { text: "TiO", w: 6242, f: 2.37 },
  { text: "CaH", w: 6338, f: 2.96 },
  { text: "CaH", w: 6857, f: 3.70 },
  { text: "TiO2", w: 7007, f: 4.80, anchor: "start" },
  { text: "TiO4", w: 7094, f: 3.60, anchor: "start" },
  { text: "K I", w: 7685, f: 2.10 },
  { text: "Na I", w: 8191, f: 2.20 },
  { text: "Ca II", w: 8583, f: 1.19 },
];
const redInactiveMarks = [
  [[6202, 2.13], [6304, 1.88], [6304, 2.17]],
  [[6345, 2.65], [6388, 2.40], [6388, 2.80]],
  [[6798, 3.51], [6963, 3.23], [6963, 3.65]],
  [[7050, 4.37], [7050, 4.59], [7081, 4.59], [7081, 3.45]],
  [[7123, 3.05], [7123, 3.34], [7146, 3.34], [7146, 2.50]],
  [[7666, 2.84], [7666, 2.53]],
  [[7701, 3.08], [7701, 2.53]],
  [[8179, 3.50], [8179, 2.73]],
  [[8202, 3.30], [8202, 2.73]],
  [[8506, 2.20], [8506, 1.71]],
  [[8552, 2.23], [8552, 1.71]],
  [[8666, 2.44], [8666, 1.71]],
];

const redActiveLabels = [
  { text: "Active M6", w: 6572, f: 7.44, anchor: "start" },
  { text: "CaOH", w: 6233, f: 2.08 },
  { text: "H\u03b1", w: 6573, f: 4.78 },
  { text: "CaH", w: 6933, f: 4.03 },
  { text: "TiO5", w: 7120, f: 4.57 },
  { text: "VO", w: 7433, f: 7.01 },
  { text: "TiO", w: 7653, f: 7.43 },
  { text: "TiO", w: 8512, f: 7.88 },
];
const redActiveMarks = [
  [[6173, 1.72], [6299, 1.09], [6299, 1.82]],
  [[6569, 4.54], [6569, 3.79]],
  [[6913, 3.54], [6998, 3.01], [6998, 3.72]],
  [[7056, 4.15], [7056, 3.69], [7154, 4.18]],
  [[7392, 6.46], [7464, 5.88], [7464, 6.55]],
  [[7594, 6.97], [7594, 6.38], [7660, 6.93]],
  [[8431, 7.53], [8431, 7.01], [8500, 7.48]],
];

const blueTickLabels = [4000, 4500, 5000, 5500, 6000];
const redTickLabels = [6000, 6500, 7000, 7500, 8000, 8500, 9000];
const xAxisTitle = "Wavelength (\u00c5)";

// ---- layout ----
const width = 1005;
const height = 1524;
const fontSize = 22;
const majorLen = 17;
const minorLen = 8;

const figures = [
  {
    domain: [3840, 6100],
    range: [22.7, 998.2],
    labelBaseline: 727.7,
    tickLabels: blueTickLabels,
    panels: [
      { top: 15, bottom: 358.3, yDomain: [0, 8], yTicks: d3.range(1, 8), isMajor: (v) => v % 2 === 0,
        rightAlt: false, topTicks: true, spectrum: blueInactive, labels: blueInactiveLabels, marks: blueInactiveMarks },
      { top: 358.3, bottom: 701.7, yDomain: [0, 8], yTicks: d3.range(1, 8), isMajor: (v) => v % 2 === 0,
        rightAlt: false, topTicks: true, spectrum: blueActive, labels: blueActiveLabels, marks: blueActiveMarks },
    ],
  },
  {
    domain: [6000, 9200],
    range: [35, 1010],
    labelBaseline: 1486.7,
    tickLabels: redTickLabels,
    panels: [
      { top: 767.7, bottom: 1114.3, yDomain: [-0.6, 5.8], yTicks: d3.range(0, 6), isMajor: (v) => v % 2 === 1,
        rightAlt: true, topTicks: true, spectrum: redInactive, labels: redInactiveLabels, marks: redInactiveMarks },
      { top: 1114.3, bottom: 1461, yDomain: [0, 8.67], yTicks: d3.range(1, 9), isMajor: (v) => v % 2 === 0,
        rightAlt: true, topTicks: false, spectrum: redActive, labels: redActiveLabels, marks: redActiveMarks },
    ],
  },
];

const svg = d3.select("#chart")
  .append("svg")
  .attr("width", width)
  .attr("height", height)
  .attr("viewBox", `0 0 ${width} ${height}`);

svg.append("rect").attr("width", width).attr("height", height).attr("fill", "#fff");

figures.forEach((fig) => {
  const x = d3.scaleLinear().domain(fig.domain).range(fig.range);
  const [x0, x1] = fig.range;
  const xTickValues = d3.range(Math.ceil(fig.domain[0] / 100) * 100, fig.domain[1] + 1, 100)
    .filter((w) => w > fig.domain[0] && w < fig.domain[1]);

  fig.panels.forEach((p) => {
    const y = d3.scaleLinear().domain(p.yDomain).range([p.bottom, p.top]);
    const g = svg.append("g");

    // spectrum
    const line = d3.line().x((d) => x(d[0])).y((d) => y(d[1]));
    g.append("path")
      .datum(p.spectrum)
      .attr("fill", "none")
      .attr("stroke", "#000")
      .attr("stroke-width", 1.5)
      .attr("stroke-linejoin", "round")
      .attr("d", line);

    // x ticks (bottom up, top down)
    const xt = g.append("g").attr("stroke", "#000").attr("stroke-width", 1.3);
    xTickValues.forEach((w) => {
      const len = w % 500 === 0 ? majorLen : minorLen;
      xt.append("line").attr("x1", x(w)).attr("x2", x(w)).attr("y1", p.bottom).attr("y2", p.bottom - len);
      if (p.topTicks) {
        xt.append("line").attr("x1", x(w)).attr("x2", x(w)).attr("y1", p.top).attr("y2", p.top + len);
      }
    });

    // y ticks
    p.yTicks.forEach((v) => {
      const len = p.isMajor(v) ? majorLen : minorLen;
      xt.append("line").attr("x1", x0).attr("x2", x0 + len).attr("y1", y(v)).attr("y2", y(v));
      const rLen = p.rightAlt ? len : minorLen;
      xt.append("line").attr("x1", x1).attr("x2", x1 - rLen).attr("y1", y(v)).attr("y2", y(v));
    });

    // frame
    g.append("rect")
      .attr("x", x0)
      .attr("y", p.top)
      .attr("width", x1 - x0)
      .attr("height", p.bottom - p.top)
      .attr("fill", "none")
      .attr("stroke", "#000")
      .attr("stroke-width", 2);

    // marker lines
    const mline = d3.line().x((d) => x(d[0])).y((d) => y(d[1]));
    g.selectAll("path.mark")
      .data(p.marks)
      .join("path")
      .attr("class", "mark")
      .attr("fill", "none")
      .attr("stroke", "#000")
      .attr("stroke-width", 1.1)
      .attr("d", mline);

    // labels
    g.selectAll("text.lab")
      .data(p.labels)
      .join("text")
      .attr("class", "lab")
      .attr("x", (d) => x(d.w))
      .attr("y", (d) => y(d.f))
      .attr("text-anchor", (d) => d.anchor || "middle")
      .attr("font-size", fontSize)
      .attr("fill", "#000")
      .text((d) => d.text);
  });

  // tick labels below the lower panel
  svg.append("g")
    .selectAll("text")
    .data(fig.tickLabels)
    .join("text")
    .attr("x", (w) => x(w))
    .attr("y", fig.labelBaseline)
    .attr("text-anchor", "middle")
    .attr("font-size", fontSize)
    .attr("fill", "#000")
    .text((w) => w);
});

svg.append("text")
  .attr("x", 522.5)
  .attr("y", 1516)
  .attr("text-anchor", "middle")
  .attr("font-size", fontSize)
  .attr("fill", "#000")
  .text(xAxisTitle);
</script>
</body>
</html>
